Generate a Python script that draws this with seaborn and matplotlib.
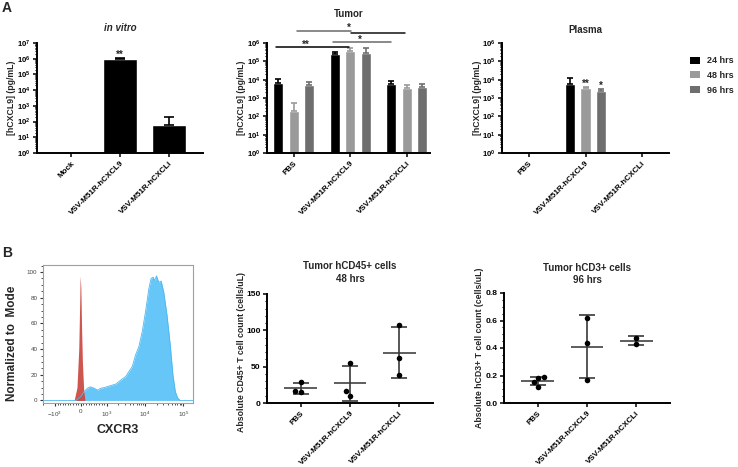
"""Figure: hCXCL9 expression (A) and CXCR3 / T cell counts (B)."""

import matplotlib

matplotlib.use("Agg")
import matplotlib.colors as mcolors
import matplotlib.pyplot as plt
import matplotlib.ticker as mticker
import numpy as np
import pandas as pd
import seaborn as sns
from matplotlib.patches import Patch

W, H = 738, 467

# ---- panel A data -------------------------------------------------------
INVITRO_GROUPS = ["Mock", "VSV-M51R-hCXCL9", "VSV-M51R-hCXCLi"]
INVITRO_MEAN = [np.nan, 9.5e5, 65]
INVITRO_TOP = [np.nan, 1.08e6, 200]

GROUPS = ["PBS", "VSV-M51R-hCXCL9", "VSV-M51R-hCXCLi"]
TIMES = ["24 hrs", "48 hrs", "96 hrs"]
BAR_COLORS = ["#000000", "#9a9a9a", "#6e6e6e"]

TUMOR_24 = [6.9e3, 2.6e5, 6.0e3]
TUMOR_48 = [190, 3.7e5, 3.6e3]
TUMOR_96 = [5.4e3, 3.0e5, 3.8e3]
TUMOR_24_TOP = [1.1e4, 3.3e5, 8.5e3]
TUMOR_48_TOP = [540, 5.4e5, 5.2e3]
TUMOR_96_TOP = [7.5e3, 5.4e5, 6.0e3]

PLASMA_24 = [np.nan, 5.9e3, np.nan]
PLASMA_48 = [np.nan, 3.6e3, np.nan]
PLASMA_96 = [np.nan, 2.4e3, np.nan]
PLASMA_24_TOP = [np.nan, 1.2e4, np.nan]
PLASMA_48_TOP = [np.nan, 4.2e3, np.nan]
PLASMA_96_TOP = [np.nan, 3.2e3, np.nan]

# ---- panel B data -------------------------------------------------------
# flow histogram (CXCR3 channel, % of mode)
ISO_X = [-260, -150, -80, -40, -27, 0, 25, 60, 110, 160]
ISO_Y = [0, 10, 40, 80, 97, 88, 60, 30, 8, 0]
CXCR3_X = [-2050, -190, 0, 128, 256, 359, 513, 641, 769, 897, 1270, 1710,
           2090, 2560, 3110, 3800, 4650, 5660, 6910, 8450, 10300, 12600,
           14400, 16300, 17700, 20000, 22800, 26400, 30900, 37800, 45800,
           53700, 62000, 71000, 83000, 180000]
CXCR3_Y = [0, 0, 3, 7, 9.5, 10.6, 9.5, 8, 9.5, 10, 11.6, 12.7, 14.7, 16.8,
           18.6, 22.5, 26.4, 35.4, 41.9, 53.5, 69, 87, 95, 96, 93.5, 97, 92,
           93, 84.5, 66, 43, 20, 7, 2, 0, 0]

CD45_GROUP = ["PBS"] * 3 + ["VSV-M51R-hCXCL9"] * 3 + ["VSV-M51R-hCXCLi"] * 3
CD45_VALUES = [29, 15, 16, 55, 10, 16, 107, 62, 39]
CD3_GROUP = ["PBS"] * 4 + ["VSV-M51R-hCXCL9"] * 3 + ["VSV-M51R-hCXCLi"] * 2
CD3_VALUES = [0.19, 0.18, 0.15, 0.12, 0.62, 0.44, 0.165, 0.475, 0.43]

sns.set_style("ticks")
plt.rcParams.update({
    "font.family": ["Liberation Sans", "DejaVu Sans"],
    "font.weight": "bold",
    "axes.labelweight": "bold",
    "axes.titleweight": "bold",
    "mathtext.fontset": "custom",
    "mathtext.default": "bf",
    "mathtext.rm": "Liberation Sans:bold",
    "mathtext.bf": "Liberation Sans:bold",
    "axes.linewidth": 1.4,
    "axes.edgecolor": "black",
    "xtick.color": "black",
    "ytick.color": "black",
    "xtick.major.width": 1.1,
    "ytick.major.width": 1.1,
    "xtick.major.size": 3,
    "ytick.major.size": 3,
    "ytick.minor.size": 1.6,
    "ytick.minor.width": 0.8,
    "xtick.major.pad": 2,
    "ytick.major.pad": 1.5,
})

FS = 5.8


def _rect(left, top, right, bottom):
    return [left / W, 1 - bottom / H, (right - left) / W, (bottom - top) / H]


def _ylabel(fig, x_px, y_px, text, size=6.3):
    fig.text(x_px / W, 1 - y_px / H, text, rotation=90, ha="center",
             va="center", fontsize=size, fontweight="bold")


def _style_cat_axis(ax, xlim, ysize=6.1):
    sns.despine(ax=ax)
    ax.set_xlim(*xlim)
    ax.set_xlabel("")
    ax.set_ylabel("")
    ax.set_xticks(range(3))
    ax.set_xticklabels(ax.get_xticklabels(), rotation=45, ha="right",
                       rotation_mode="anchor", fontsize=FS)
    ax.tick_params(axis="y", labelsize=ysize)


def _log_axis(ax, top_exp):
    ax.set_yscale("log")
    ax.set_ylim(1, 10 ** top_exp)
    ax.yaxis.set_major_locator(mticker.LogLocator(base=10, numticks=12))
    ax.yaxis.set_major_formatter(
        mticker.FuncFormatter(lambda v, _: f"$10^{{{int(round(np.log10(v)))}}}$"))
    ax.yaxis.set_minor_locator(mticker.LogLocator(base=10, subs=np.arange(2, 10), numticks=12))
    ax.yaxis.set_minor_formatter(mticker.NullFormatter())


def _upper_errors(ax, tops_by_color, capsize):
    for bar in list(ax.patches):
        h = bar.get_height()
        if not np.isfinite(h) or h <= 0:
            continue
        xc = bar.get_x() + bar.get_width() / 2
        color = mcolors.to_hex(bar.get_facecolor())
        top = tops_by_color[color][int(round(xc))]
        ax.errorbar(xc, h, yerr=[[0], [top - h]], fmt="none", ecolor=color,
                    elinewidth=1.2, capsize=capsize, capthick=1.2, zorder=1)


def _long_frame(means, tops):
    rows = []
    for t, m_list, t_list in zip(TIMES, means, tops):
        for g, m, tp in zip(GROUPS, m_list, t_list):
            rows.append({"group": g, "time": t, "value": m, "top": tp})
    return pd.DataFrame(rows)


def _grouped_bars(ax, df, xlim, top_exp):
    sns.barplot(data=df, x="group", y="value", hue="time", order=GROUPS,
                hue_order=TIMES, palette=dict(zip(TIMES, BAR_COLORS)),
                saturation=1, width=0.823, gap=0.354, errorbar=None,
                legend=False, ax=ax)
    tops = {}
    for t, c in zip(TIMES, BAR_COLORS):
        sub = df[df["time"] == t].set_index("group").reindex(GROUPS)
        tops[mcolors.to_hex(c)] = list(sub["top"])
    _upper_errors(ax, tops, capsize=2.5)
    _log_axis(ax, top_exp)
    _style_cat_axis(ax, xlim, ysize=5.6)


def _scatter_panel(ax, groups, values):
    df = pd.DataFrame({"group": groups, "value": values})
    sns.swarmplot(data=df, x="group", y="value", order=GROUPS, color="black",
                  size=4, zorder=3, ax=ax)
    stats = df.groupby("group")["value"].agg(["mean", "std"]).reindex(GROUPS)
    for i, (m, s) in enumerate(zip(stats["mean"], stats["std"])):
        ax.hlines(m, i - 0.335, i + 0.335, color="#505050", lw=1.3, zorder=2)
        ax.errorbar(i, m, yerr=s, fmt="none", ecolor="#3a3a3a", elinewidth=1.2,
                    capsize=5.8, capthick=1.2, zorder=2)
    _style_cat_axis(ax, (-0.69, 2.69))


fig = plt.figure(figsize=(W / 100, H / 100), dpi=100)

# ---- A: in vitro --------------------------------------------------------
ax1 = fig.add_axes(_rect(37, 43, 203, 153))
df_iv = pd.DataFrame({"group": INVITRO_GROUPS, "value": INVITRO_MEAN})
sns.barplot(data=df_iv, x="group", y="value", order=INVITRO_GROUPS,
            color="black", saturation=1, width=0.69, errorbar=None, ax=ax1)
_upper_errors(ax1, {"#000000": INVITRO_TOP}, capsize=3.6)
_log_axis(ax1, 7)
_style_cat_axis(ax1, (-0.69, 2.69), ysize=5.6)
ax1.set_title("in vitro", fontsize=7, style="italic", pad=8.5)
ax1.text(1, INVITRO_TOP[1], "**", ha="center", va="baseline", fontsize=7)
_ylabel(fig, 12, 98, "[hCXCL9] (pg/mL)")

# ---- A: tumor -----------------------------------------------------------
ax2 = fig.add_axes(_rect(267, 43, 430, 153))
df_tumor = _long_frame([TUMOR_24, TUMOR_48, TUMOR_96],
                       [TUMOR_24_TOP, TUMOR_48_TOP, TUMOR_96_TOP])
_grouped_bars(ax2, df_tumor, (-0.478, 2.41), 6)
ax2.set_title("Tumor", fontsize=7, pad=19)
_ylabel(fig, 242, 98, "[hCXCL9] (pg/mL)")
sig_kw = dict(clip_on=False, lw=1.1)
ax2.plot([0.05, 1.01], [10 ** 6.68, 10 ** 6.68], color="#6a6a6a", **sig_kw)
ax2.plot([1.01, 1.96], [10 ** 6.57, 10 ** 6.57], color="#111111", **sig_kw)
ax2.text(0.98, 10 ** 6.68, "*", ha="center", va="baseline", fontsize=7)
ax2.plot([0.69, 1.72], [10 ** 6.03, 10 ** 6.03], color="#6a6a6a", **sig_kw)
ax2.text(1.17, 10 ** 6.03, "*", ha="center", va="baseline", fontsize=7)
ax2.plot([-0.32, 0.97], [10 ** 5.76, 10 ** 5.76], color="black", **sig_kw)
ax2.text(0.21, 10 ** 5.76, "**", ha="center", va="baseline", fontsize=7)

# ---- A: plasma ----------------------------------------------------------
ax3 = fig.add_axes(_rect(502, 43, 669, 153))
df_plasma = _long_frame([PLASMA_24, PLASMA_48, PLASMA_96],
                        [PLASMA_24_TOP, PLASMA_48_TOP, PLASMA_96_TOP])
_grouped_bars(ax3, df_plasma, (-0.478, 2.478), 6)
ax3.set_title("Plasma", fontsize=7, pad=7.5)
_ylabel(fig, 477, 98, "[hCXCL9] (pg/mL)")
ax3.text(1.0, PLASMA_48_TOP[1], "**", ha="center", va="baseline", fontsize=7)
ax3.text(1.274, PLASMA_96_TOP[1], "*", ha="center", va="baseline", fontsize=7)
handles = [Patch(facecolor=c, edgecolor="none") for c in BAR_COLORS]
ax3.legend(handles, TIMES, loc="upper left", bbox_to_anchor=(1.125, 0.88),
           frameon=False, fontsize=6.5, handlelength=1.1, handleheight=0.8,
           handletextpad=0.8, labelspacing=0.65, borderpad=0,
           borderaxespad=0)

# ---- B: CXCR3 histogram -------------------------------------------------
ax4 = fig.add_axes(_rect(43, 265, 193, 403))
ax4.set_xscale("symlog", linthresh=1000, linscale=0.61)
ax4.fill_between(CXCR3_X, CXCR3_Y, color="#66c6f7", lw=0)
sns.lineplot(x=CXCR3_X, y=CXCR3_Y, color="#4fb6ee", lw=0.6, sort=False,
             estimator=None, ax=ax4)
ax4.fill_between(ISO_X, ISO_Y, color="#c9473f", lw=0, alpha=0.92)
ax4.set_xlim(-2050, 1.8e5)
ax4.set_ylim(-2, 105.5)
ax4.set_xticks([-1000, 0, 1000, 10000, 100000])
ax4.set_xticklabels(["$\\mathregular{-10^{3}}$", "0", "$\\mathregular{10^{3}}$",
                     "$\\mathregular{10^{4}}$", "$\\mathregular{10^{5}}$"])
minor = list(range(-900, 1000, 100))
for dec in (1000, 10000, 100000):
    minor += [k * dec for k in range(2, 10) if k * dec < 1.8e5]
    minor += [-k * dec for k in range(2, 10) if k * dec < 2050]
ax4.set_xticks(minor, minor=True)
ax4.set_yticks(range(0, 101, 20))
ax4.yaxis.set_minor_locator(mticker.MultipleLocator(5))
for side in ("top", "right", "bottom", "left"):
    ax4.spines[side].set_color("#a0a0a0")
    ax4.spines[side].set_linewidth(0.8)
ax4.tick_params(axis="both", which="major", labelsize=4.5, labelcolor="#444444",
                length=2.5, width=0.8, color="#333333")
ax4.tick_params(axis="both", which="minor", length=1.5, width=0.6,
                color="#333333")
for lab in ax4.get_xticklabels() + ax4.get_yticklabels():
    lab.set_fontweight("normal")
ax4.set_xlabel("CXCR3", fontsize=9, labelpad=4)
ax4.set_ylabel("")
_ylabel(fig, 12, 343, "Normalized to  Mode", size=8.5)

# ---- B: hCD45+ / hCD3+ counts -------------------------------------------
ax5 = fig.add_axes(_rect(267, 294, 433, 403))
_scatter_panel(ax5, CD45_GROUP, CD45_VALUES)
ax5.set_ylim(0, 150)
ax5.set_yticks([0, 50, 100, 150])
ax5.yaxis.set_minor_locator(mticker.MultipleLocator(10))
ax5.set_title("Tumor hCD45+ cells\n48 hrs", fontsize=7, pad=9, linespacing=1.3)
_ylabel(fig, 241, 352, "Absolute CD45+ T cell count (cells/uL)")

ax6 = fig.add_axes(_rect(504, 293, 670, 403))
_scatter_panel(ax6, CD3_GROUP, CD3_VALUES)
ax6.set_ylim(0, 0.8)
ax6.set_yticks([0, 0.2, 0.4, 0.6, 0.8])
ax6.yaxis.set_major_formatter(mticker.FormatStrFormatter("%.1f"))
ax6.yaxis.set_minor_locator(mticker.MultipleLocator(0.05))
ax6.set_title("Tumor hCD3+ cells\n96 hrs", fontsize=7, pad=7, linespacing=1.3)
_ylabel(fig, 480, 348, "Absolute hCD3+ T cell count (cells/uL)")

fig.text(7 / W, 1 - 8 / H, "A", fontsize=10, fontweight="bold", ha="center", va="center")
fig.text(7 / W, 1 - 253 / H, "B", fontsize=10, fontweight="bold", ha="center", va="center")

fig.savefig("out.png", dpi=100)
